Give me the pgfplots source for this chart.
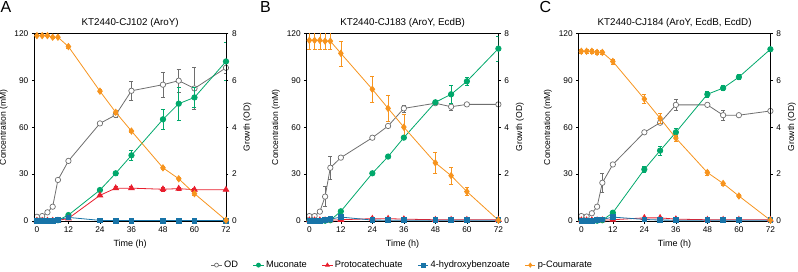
\documentclass[border=0pt]{standalone}
\usepackage{fontspec}
\setmainfont{Liberation Sans}
\usepackage{pgfplots}
\usepackage{pgfplotstable}
\pgfplotsset{compat=1.18}
\definecolor{cgray}{RGB}{110,110,110}
\definecolor{cgreen}{RGB}{0,168,107}
\definecolor{cred}{RGB}{232,30,45}
\definecolor{cblue}{RGB}{24,116,168}
\definecolor{corange}{RGB}{247,148,30}

\pgfplotstableread{
t pc pce mu mue pa pae hb od ode
0 118.5 0.5 0.2 0 0.2 0 0.2 0.18 0.02
2 118.5 0.5 0.2 0 0.2 0 0.2 0.21 0.02
4 118.5 0.5 0.2 0 0.2 0 0.2 0.37 0.03
6 117.5 0.5 0.2 0 0.2 0 0.3 0.61 0.05
8 117.5 0.5 0.5 0 0.3 0 0.8 1.75 0.05
12 111.5 1 3.8 0.5 1.7 0.3 2.3 2.56 0.05
24 83 1 19.8 1 16.4 0.5 0.4 4.16 0.05
30 69.5 1 30.5 1.5 21 1 0.3 4.52 0.1
36 57.5 1 42 3.5 21 1 0.3 5.55 0.4
48 34 1 65 6.4 20.3 1 0.3 5.81 0.53
54 27 1 75 10.4 20.7 1 0.3 5.98 0.5
60 17.5 1 79 6.4 20 1 0.3 5.65 0.9
72 0.5 0 102 12 20 0.5 0.3 6.53 0.25
}\tabA
\pgfplotstableread{
t pc pce mu mue pa pae hb od ode
0 115.5 5.5 0.2 0 0.5 0 0.3 0.21 0.02
2 115.5 5.5 0.2 0 0.5 0 0.3 0.21 0.02
4 115.5 5.5 0.2 0 0.5 0 0.3 0.40 0.03
6 115 5.5 0.2 0 0.5 0 0.5 1.04 0.43
8 115 5.5 0.5 0 0.5 0 1.2 2.27 0.5
12 107.2 8 6.2 0.5 0.8 0 2.5 2.70 0.05
24 84.2 8.5 30.5 0.5 1.5 0.3 0.6 3.55 0.05
30 72 8.5 41.2 0.8 1.5 0.3 0.5 4.05 0.05
36 60 8 53.3 0.8 1.2 0.3 0.5 4.80 0.15
48 37.2 6.5 75.9 1 0.8 0 0.5 5.02 0.05
54 29 5.3 81 5.8 0.8 0 0.5 4.87 0.15
60 18.8 2.6 89.3 2.7 0.8 0 0.5 4.97 0.05
72 0.5 0 110.2 8 0.8 0 0.5 4.97 0.05
}\tabB
\pgfplotstableread{
t pc pce mu mue pa pae hb od ode
0 108.5 1.5 0.2 0 0.5 0 0.3 0.21 0.02
2 108.5 1.5 0.2 0 0.5 0 0.3 0.19 0.02
4 108.5 1.5 0.2 0 0.5 0 0.3 0.33 0.03
6 107.8 1.5 0.2 0 0.5 0 0.5 0.61 0.05
8 107.8 1.5 0.5 0 0.5 0 1.0 1.63 0.4
12 102 1.5 5.3 0.5 0.8 0 2.5 2.41 0.05
24 78 3 33 2 2 0.3 1 3.78 0.05
30 65.7 3 45 3 2 0.3 0.6 4.19 0.05
36 53 2 56.7 2.5 1.2 0.3 0.5 4.95 0.25
48 31 1.5 81 2 0.8 0 0.5 4.95 0.05
54 24 1 85 1.5 0.8 0 0.5 4.51 0.2
60 16 1 92 1.5 0.8 0 0.5 4.51 0.05
72 0.5 0 109.8 1 0.8 0 0.5 4.69 0.05
}\tabC

\pgfplotsset{
  base/.style={scale only axis, width=191.7pt, height=187.7pt, anchor=south west,
    xmin=-1, xmax=72, xtick={0,12,...,72}, tick align=outside, major tick length=2.5pt,
    tick style={black, line width=0.5pt}, axis line style={line width=0.6pt},
    /pgf/number format/assume math mode=true,
    tick label style={font=\fontsize{8.3}{10}\selectfont},
    ylabel style={font=\fontsize{8.6}{10}\selectfont},
    xlabel style={font=\fontsize{9}{10}\selectfont},
    title style={font=\fontsize{9.8}{11}\selectfont, yshift=-4pt},
    legend image code/.code={\draw[mark repeat=2, mark phase=2, #1, mark size=2pt] plot coordinates {(0cm,0cm) (0.18cm,0cm) (0.36cm,0cm)};}},
  rightax/.style={base, axis x line=none, axis y line*=right, ymin=0, ymax=8, ytick={0,2,...,8},
    ylabel={Growth (OD)}},
  leftax/.style={base, ymin=0, ymax=120, ytick={0,30,...,120}, ytick pos=left, xtick pos=bottom,
    xlabel={Time (h)}, ylabel={Concentration (mM)}},
  ebar/.style={error bars/.cd, y dir=both, y explicit, error bar style={line width=0.6pt},
    error mark options={rotate=90, mark size=2pt, line width=0.6pt}},
  odst/.style={cgray, line width=0.8pt, mark=*, mark size=2.7pt, mark options={fill=white, draw=cgray, line width=0.7pt}},
  must/.style={cgreen, line width=0.8pt, mark=*, mark size=2.7pt, mark options={fill=cgreen, draw=cgreen}},
  past/.style={cred, line width=0.8pt, mark=triangle*, mark size=3.2pt, mark options={fill=cred, draw=cred}},
  hbst/.style={cblue, line width=0.8pt, mark=square*, mark size=2.4pt, mark options={fill=cblue, draw=cblue}},
  pcst/.style={corange, line width=0.8pt, mark=diamond*, mark size=3.1pt, mark options={fill=corange, draw=corange}},
}

\begin{document}
\begin{tikzpicture}
\path[use as bounding box] (0pt,0pt) rectangle (798pt,271pt);
% Panel A
\begin{axis}[rightax, at={(34.3pt,50pt)}]
\addplot[odst, ebar] table[x=t, y=od, y error=ode] {\tabA};
\end{axis}
\begin{axis}[leftax, at={(34.3pt,50pt)}, title={KT2440-CJ102 (AroY)}]
\addplot[must, ebar] table[x=t, y=mu, y error=mue] {\tabA};
\addplot[past, ebar] table[x=t, y=pa, y error=pae] {\tabA};
\addplot[hbst] table[x=t, y=hb] {\tabA};
\addplot[pcst, ebar] table[x=t, y=pc, y error=pce] {\tabA};
\end{axis}
% Panel B
\begin{axis}[rightax, at={(306.7pt,50pt)}]
\addplot[odst, ebar] table[x=t, y=od, y error=ode] {\tabB};
\end{axis}
\begin{axis}[leftax, at={(306.7pt,50pt)}, title={KT2440-CJ183 (AroY, EcdB)},
  legend style={at={(0.5,-0.235)}, anchor=center, draw=none, fill=none,
    font=\fontsize{9.3}{10}\selectfont, legend columns=5,
    /tikz/every odd column/.append style={column sep=0pt},
    /tikz/every even column/.append style={column sep=13pt}}]
\addlegendimage{odst}\addlegendentry{OD}
\addplot[must, ebar] table[x=t, y=mu, y error=mue] {\tabB};\addlegendentry{Muconate}
\addplot[past, ebar] table[x=t, y=pa, y error=pae] {\tabB};\addlegendentry{Protocatechuate}
\addplot[hbst] table[x=t, y=hb] {\tabB};\addlegendentry{4-hydroxybenzoate}
\addplot[pcst, ebar] table[x=t, y=pc, y error=pce] {\tabB};\addlegendentry{p-Coumarate}
\end{axis}
% Panel C
\begin{axis}[rightax, at={(578.7pt,50pt)}]
\addplot[odst, ebar] table[x=t, y=od, y error=ode] {\tabC};
\end{axis}
\begin{axis}[leftax, at={(578.7pt,50pt)}, title={KT2440-CJ184 (AroY, EcdB, EcdD)}]
\addplot[must, ebar] table[x=t, y=mu, y error=mue] {\tabC};
\addplot[past, ebar] table[x=t, y=pa, y error=pae] {\tabC};
\addplot[hbst] table[x=t, y=hb] {\tabC};
\addplot[pcst, ebar] table[x=t, y=pc, y error=pce] {\tabC};
\end{axis}
\node[font=\fontsize{16}{18}\selectfont, anchor=north west, inner sep=0pt] at (0.5pt,269.5pt) {A};
\node[font=\fontsize{16}{18}\selectfont, anchor=north west, inner sep=0pt] at (260pt,269.5pt) {B};
\node[font=\fontsize{16}{18}\selectfont, anchor=north west, inner sep=0pt] at (539.5pt,269.5pt) {C};
\end{tikzpicture}
\end{document}
